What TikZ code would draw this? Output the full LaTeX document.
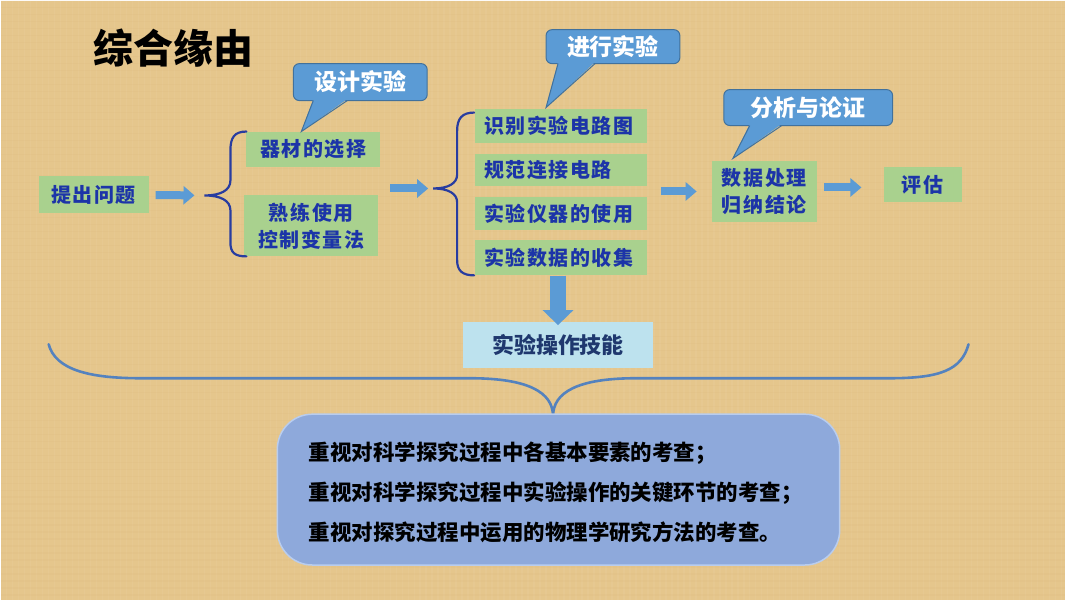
\documentclass[tikz,border=0pt]{standalone}
\usepackage{fontspec}
\setmainfont{Noto Sans CJK SC}
\newfontfamily\spacedfont[LetterSpace=8]{Noto Sans CJK SC}
\usetikzlibrary{arrows.meta}
\definecolor{bg}{RGB}{229,198,140}
\definecolor{callfill}{RGB}{91,155,213}
\definecolor{callborder}{RGB}{65,113,156}
\definecolor{gfill}{RGB}{169,209,142}
\definecolor{gtext}{RGB}{28,52,168}
\definecolor{bracec}{RGB}{40,60,160}
\definecolor{bigbrace}{RGB}{84,130,190}
\definecolor{botfill}{RGB}{142,169,219}
\definecolor{botborder}{RGB}{185,205,238}
\definecolor{skillfill}{RGB}{189,226,238}
\definecolor{skilltext}{RGB}{31,56,110}
\definecolor{arrowc}{RGB}{91,155,213}
\begin{document}
\begin{tikzpicture}[x=1pt,y=-1pt,
  callbox/.style={fill=callfill,draw=callborder,line width=1pt,rounded corners=6pt,text=white,
    font=\fontsize{23}{23}\selectfont\bfseries,inner sep=0pt},
  calltail/.style={draw=callborder,line width=1pt,line join=miter},
  gbox/.style={fill=gfill,text=gtext,font=\spacedfont\fontsize{20}{27}\selectfont\bfseries,inner sep=0pt,align=center},
  mbox/.style={fill=gfill,text=gtext,font=\spacedfont\fontsize{20}{27}\selectfont\bfseries,inner xsep=9pt,inner ysep=0pt,
    text width=154pt,align=left,minimum height=34pt},
  blockarrow/.style={draw=arrowc,line width=8pt,-{Triangle[length=11pt,width=18pt]}},
  smallbrace/.style={draw=bracec,line width=2.2pt,line cap=round},
]
\fill[bg] (0,0) rectangle (1066,600);
\foreach \xx in {0,6,...,1066} {\draw[white,opacity=0.05,line width=1.4pt] (\xx,0) -- (\xx,600);}
\foreach \yy in {0,7,...,600} {\draw[brown,opacity=0.04,line width=1.2pt] (0,\yy) -- (1066,\yy);}
\useasboundingbox (0,0) rectangle (1066,600);

% title
\node[font=\fontsize{40}{40}\selectfont\bfseries,text=black] (title) at (173,47) {综合缘由};

% left part
\node[gbox,minimum width=110pt,minimum height=37pt] (q) at (93,194.5) {提出问题};
\node[gbox,minimum width=134pt,minimum height=36pt] (g1) at (313,149) {器材的选择};
\node[gbox,minimum width=134pt,minimum height=61pt] (g2) at (311,225.5) {熟练使用\\控制变量法};

% middle boxes
\node[mbox] (m1) at (561,125) {识别实验电路图};
\node[mbox,minimum height=33pt] (m2) at (561,169.5) {规范连接电路};
\node[mbox,minimum height=33pt] (m3) at (561,213.5) {实验仪器的使用};
\node[mbox,minimum height=35pt] (m4) at (561,257.5) {实验数据的收集};

\node[fill=skillfill,text=skilltext,font=\fontsize{22}{22}\selectfont\bfseries,
  minimum width=190pt,minimum height=46pt,inner sep=0pt] (skill) at (558,345) {实验操作技能};

% right part
\node[gbox,minimum width=105pt,minimum height=62pt] (d) at (764.5,191) {数据处理\\归纳结论};
\node[gbox,minimum width=78pt,minimum height=35pt] (e) at (923,184.5) {评估};

% callouts
\node[callbox,minimum width=134pt,minimum height=37pt] (c1) at (360,81.5) {设计实验};
\fill[callfill] (313,98.5) -- (301,131) -- (347,98.5) -- cycle;
\draw[calltail] (313,100) -- (301,131) -- (347,100);

\node[callbox,minimum width=134pt,minimum height=34pt] (c2) at (613,46) {进行实验};
\fill[callfill] (558,61.5) -- (546,107) -- (595,61.5) -- cycle;
\draw[calltail] (558,63) -- (546,107) -- (595,63);

\node[callbox,minimum width=169pt,minimum height=36pt] (c3) at (808.5,107) {分析与论证};
\fill[callfill] (750,123.5) -- (733,158) -- (782,123.5) -- cycle;
\draw[calltail] (750,125) -- (733,158) -- (782,125);

% braces
\coordinate (b1tip) at (204,195);
\coordinate (b2tip) at (433,188);
\draw[smallbrace] (246,131) .. controls (234,131) and (230,137) .. (230,150) -- (230,180)
  .. controls (230,190) and (220,195) .. (b1tip)
  .. controls (220,195) and (230,200) .. (230,210) -- (230,242)
  .. controls (230,252) and (234,256) .. (246,256);
\draw[smallbrace] (474,112) .. controls (462,112) and (457,118) .. (457,130) -- (457,174)
  .. controls (457,183) and (448,188) .. (b2tip)
  .. controls (448,188) and (457,193) .. (457,202) -- (457,260)
  .. controls (457,270) and (462,275) .. (474,275);

% block arrows
\coordinate (y187) at (0,187);
\coordinate (b1out) at (380,188);
\coordinate (mout) at (647,191);
\draw[blockarrow,shorten <=7pt,shorten >=10pt] (q.east) -- (b1tip);
\draw[blockarrow,shorten <=10pt,shorten >=5pt] (b1out) -- (b2tip);
\draw[blockarrow,shorten <=14pt,shorten >=15pt] (mout) -- (d.west);
\draw[blockarrow,shorten <=7pt,shorten >=22pt] (d.east |- y187) -- (e.west |- y187);
\draw[draw=arrowc,line width=16pt,-{Triangle[length=15pt,width=30pt]},shorten >=-3pt]
  (skill.north |- m4.south) -- (skill.north);

% big brace
\coordinate (bigtip) at (553,416);
\draw[bigbrace,line width=2.6pt,line cap=round]
  (48,344) .. controls (55,370) and (90,378) .. (140,378) -- (470,378)
  .. controls (528,378) and (553,392) .. (bigtip)
  .. controls (553,392) and (578,378) .. (636,378) -- (890,378)
  .. controls (940,378) and (962,370) .. (969,344);

% bottom box
\node[fill=botfill,draw=botborder,line width=1.5pt,rounded corners=35pt,
  minimum width=563pt,minimum height=151pt] (bot) at (558.5,489.5) {};
\node[anchor=west,align=left,text=black,font=\fontsize{21.5}{40}\selectfont\bfseries] (t) at (305,492)
  {重视对科学探究过程中各基本要素的考查；\\重视对科学探究过程中实验操作的关键环节的考查；\\重视对探究过程中运用的物理学研究方法的考查。};
\end{tikzpicture}
\end{document}
